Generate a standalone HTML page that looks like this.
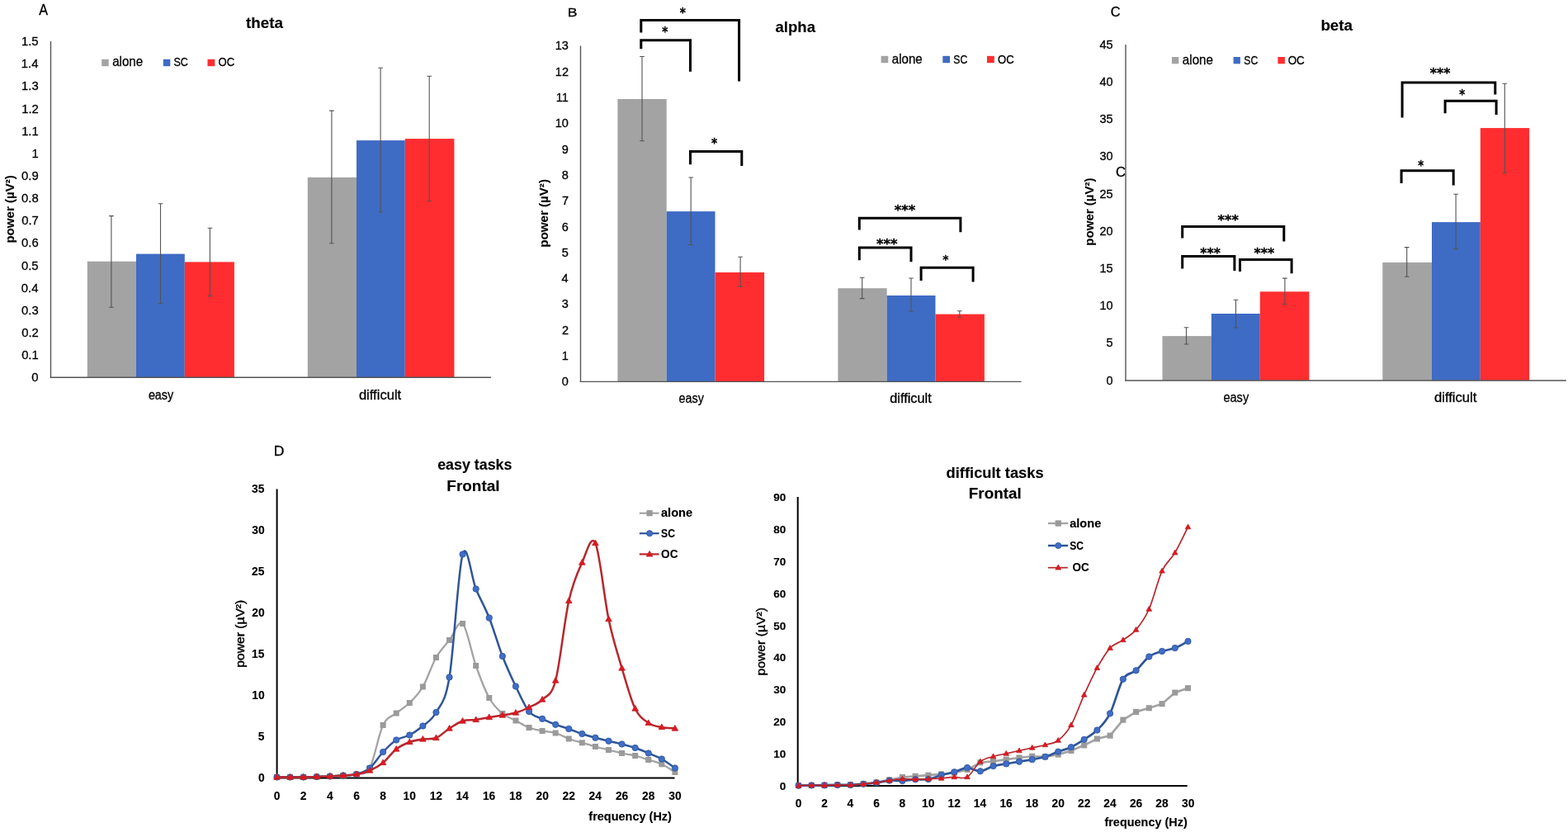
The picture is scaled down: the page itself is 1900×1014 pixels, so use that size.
<!DOCTYPE html>
<html><head><meta charset="utf-8"><title>EEG power spectra</title>
<style>html,body{margin:0;padding:0;background:#fff;}svg{display:block;}</style></head>
<body><svg width="1900" height="1014" viewBox="0 0 1900 1014" font-family="'Liberation Sans', Arial, sans-serif">
<rect width="1900" height="1014" fill="#fff"/>
<text x="47.26" y="18.00" font-size="17.60" fill="#000" stroke="#000" stroke-width="0.3" textLength="10.77" lengthAdjust="spacingAndGlyphs">A</text>
<text x="297.96" y="33.60" font-size="17.79" font-weight="bold" fill="#000" stroke="#000" stroke-width="0.12" textLength="44.93" lengthAdjust="spacingAndGlyphs">theta</text>
<rect x="123.20" y="71.80" width="8.50" height="8.40" fill="#a3a3a3"/>
<text x="136.16" y="80.10" font-size="15.72" fill="#000" stroke="#000" stroke-width="0.3" textLength="37.01" lengthAdjust="spacingAndGlyphs">alone</text>
<rect x="197.80" y="71.80" width="8.50" height="8.40" fill="#3e6bc4"/>
<text x="210.43" y="80.10" font-size="15.34" fill="#000" stroke="#000" stroke-width="0.3" textLength="17.53" lengthAdjust="spacingAndGlyphs">SC</text>
<rect x="251.50" y="71.80" width="8.80" height="8.40" fill="#ff2d2f"/>
<text x="264.48" y="80.10" font-size="15.34" fill="#000" stroke="#000" stroke-width="0.3" textLength="19.72" lengthAdjust="spacingAndGlyphs">OC</text>
<rect x="105.80" y="316.70" width="59.20" height="140.60" fill="#a3a3a3"/>
<rect x="165.00" y="307.60" width="58.80" height="149.70" fill="#3e6bc4"/>
<rect x="223.80" y="317.40" width="60.10" height="139.90" fill="#ff2d2f"/>
<rect x="372.80" y="214.90" width="59.20" height="242.40" fill="#a3a3a3"/>
<rect x="432.00" y="170.10" width="58.80" height="287.20" fill="#3e6bc4"/>
<rect x="490.80" y="168.10" width="59.60" height="289.20" fill="#ff2d2f"/>
<path d="M132.10 261.60H137.70M134.90 261.60V372.30M132.10 372.30H137.70" stroke="#545454" stroke-width="1.1" fill="none"/>
<path d="M191.70 246.80H197.30M194.50 246.80V367.70M191.70 367.70H197.30" stroke="#545454" stroke-width="1.1" fill="none"/>
<path d="M251.60 276.30H257.20M254.40 276.30V358.60M251.60 358.60H257.20" stroke="#545454" stroke-width="1.1" fill="none"/>
<path d="M399.10 134.10H404.70M401.90 134.10V294.80M399.10 294.80H404.70" stroke="#545454" stroke-width="1.1" fill="none"/>
<path d="M458.30 82.30H463.90M461.10 82.30V256.80M458.30 256.80H463.90" stroke="#545454" stroke-width="1.1" fill="none"/>
<path d="M517.40 92.20H523.00M520.20 92.20V243.80M517.40 243.80H523.00" stroke="#545454" stroke-width="1.1" fill="none"/>
<line x1="61.50" y1="50.00" x2="61.50" y2="458.00" stroke="#555555" stroke-width="1.4"/>
<line x1="60.80" y1="457.30" x2="595.00" y2="457.30" stroke="#555555" stroke-width="1.4"/>
<text x="38.34" y="462.39" font-size="14.80" fill="#000" stroke="#000" stroke-width="0.3">0</text>
<text x="26.13" y="435.24" font-size="14.80" fill="#000" stroke="#000" stroke-width="0.3">0.1</text>
<text x="26.17" y="408.09" font-size="14.80" fill="#000" stroke="#000" stroke-width="0.3">0.2</text>
<text x="26.06" y="380.94" font-size="14.80" fill="#000" stroke="#000" stroke-width="0.3">0.3</text>
<text x="25.83" y="353.79" font-size="14.80" fill="#000" stroke="#000" stroke-width="0.3">0.4</text>
<text x="26.02" y="326.64" font-size="14.80" fill="#000" stroke="#000" stroke-width="0.3">0.5</text>
<text x="26.06" y="299.49" font-size="14.80" fill="#000" stroke="#000" stroke-width="0.3">0.6</text>
<text x="26.17" y="272.34" font-size="14.80" fill="#000" stroke="#000" stroke-width="0.3">0.7</text>
<text x="26.06" y="245.19" font-size="14.80" fill="#000" stroke="#000" stroke-width="0.3">0.8</text>
<text x="26.09" y="218.04" font-size="14.80" fill="#000" stroke="#000" stroke-width="0.3">0.9</text>
<text x="38.49" y="190.89" font-size="14.80" fill="#000" stroke="#000" stroke-width="0.3">1</text>
<text x="26.13" y="163.74" font-size="14.80" fill="#000" stroke="#000" stroke-width="0.3">1.1</text>
<text x="26.17" y="136.66" font-size="14.80" fill="#000" stroke="#000" stroke-width="0.3">1.2</text>
<text x="26.06" y="109.44" font-size="14.80" fill="#000" stroke="#000" stroke-width="0.3">1.3</text>
<text x="25.83" y="82.29" font-size="14.80" fill="#000" stroke="#000" stroke-width="0.3">1.4</text>
<text x="26.02" y="55.06" font-size="14.80" fill="#000" stroke="#000" stroke-width="0.3">1.5</text>
<text x="17.40" y="294.58" font-size="14.62" font-weight="bold" fill="#000" stroke="#000" stroke-width="0.12" textLength="82.33" lengthAdjust="spacingAndGlyphs" transform="rotate(-90 17.40 294.58)">power (µV²)</text>
<text x="179.89" y="483.60" font-size="15.63" fill="#000" stroke="#000" stroke-width="0.3" textLength="30.34" lengthAdjust="spacingAndGlyphs">easy</text>
<text x="434.90" y="483.60" font-size="17.38" fill="#000" stroke="#000" stroke-width="0.3" textLength="51.32" lengthAdjust="spacingAndGlyphs">difficult</text>
<text x="687.84" y="20.20" font-size="14.98" fill="#000" stroke="#000" stroke-width="0.3" textLength="11.77" lengthAdjust="spacingAndGlyphs">B</text>
<text x="939.44" y="38.70" font-size="18.48" font-weight="bold" fill="#000" stroke="#000" stroke-width="0.12" textLength="48.55" lengthAdjust="spacingAndGlyphs">alpha</text>
<rect x="1067.60" y="67.80" width="8.70" height="8.40" fill="#a3a3a3"/>
<text x="1080.86" y="76.50" font-size="15.59" fill="#000" stroke="#000" stroke-width="0.3" textLength="36.91" lengthAdjust="spacingAndGlyphs">alone</text>
<rect x="1142.30" y="67.80" width="8.70" height="8.40" fill="#3e6bc4"/>
<text x="1155.25" y="76.50" font-size="15.20" fill="#000" stroke="#000" stroke-width="0.3" textLength="17.00" lengthAdjust="spacingAndGlyphs">SC</text>
<rect x="1196.00" y="67.80" width="8.80" height="8.40" fill="#ff2d2f"/>
<text x="1209.08" y="76.50" font-size="15.20" fill="#000" stroke="#000" stroke-width="0.3" textLength="19.72" lengthAdjust="spacingAndGlyphs">OC</text>
<rect x="748.40" y="120.00" width="59.30" height="342.40" fill="#a3a3a3"/>
<rect x="807.70" y="256.10" width="58.80" height="206.30" fill="#3e6bc4"/>
<rect x="866.50" y="330.00" width="59.60" height="132.40" fill="#ff2d2f"/>
<rect x="1015.40" y="349.20" width="59.30" height="113.20" fill="#a3a3a3"/>
<rect x="1074.70" y="358.00" width="58.80" height="104.40" fill="#3e6bc4"/>
<rect x="1133.50" y="380.60" width="59.40" height="81.80" fill="#ff2d2f"/>
<path d="M775.20 68.50H780.80M778.00 68.50V170.80M775.20 170.80H780.80" stroke="#545454" stroke-width="1.1" fill="none"/>
<path d="M834.40 215.00H840.00M837.20 215.00V296.50M834.40 296.50H840.00" stroke="#545454" stroke-width="1.1" fill="none"/>
<path d="M894.30 311.20H899.90M897.10 311.20V347.10M894.30 347.10H899.90" stroke="#545454" stroke-width="1.1" fill="none"/>
<path d="M1041.90 336.20H1047.50M1044.70 336.20V361.60M1041.90 361.60H1047.50" stroke="#545454" stroke-width="1.1" fill="none"/>
<path d="M1101.20 337.00H1106.80M1104.00 337.00V377.30M1101.20 377.30H1106.80" stroke="#545454" stroke-width="1.1" fill="none"/>
<path d="M1160.00 376.80H1165.60M1162.80 376.80V384.20M1160.00 384.20H1165.60" stroke="#545454" stroke-width="1.1" fill="none"/>
<line x1="703.50" y1="55.50" x2="703.50" y2="463.10" stroke="#555555" stroke-width="1.4"/>
<line x1="702.80" y1="462.40" x2="1237.60" y2="462.40" stroke="#555555" stroke-width="1.4"/>
<text x="680.70" y="467.38" font-size="14.50" fill="#000" stroke="#000" stroke-width="0.3">0</text>
<text x="680.84" y="436.08" font-size="14.50" fill="#000" stroke="#000" stroke-width="0.3">1</text>
<text x="680.88" y="404.86" font-size="14.50" fill="#000" stroke="#000" stroke-width="0.3">2</text>
<text x="680.77" y="373.48" font-size="14.50" fill="#000" stroke="#000" stroke-width="0.3">3</text>
<text x="680.55" y="342.18" font-size="14.50" fill="#000" stroke="#000" stroke-width="0.3">4</text>
<text x="680.73" y="310.81" font-size="14.50" fill="#000" stroke="#000" stroke-width="0.3">5</text>
<text x="680.77" y="279.58" font-size="14.50" fill="#000" stroke="#000" stroke-width="0.3">6</text>
<text x="680.88" y="248.28" font-size="14.50" fill="#000" stroke="#000" stroke-width="0.3">7</text>
<text x="680.77" y="216.98" font-size="14.50" fill="#000" stroke="#000" stroke-width="0.3">8</text>
<text x="680.81" y="185.68" font-size="14.50" fill="#000" stroke="#000" stroke-width="0.3">9</text>
<text x="672.65" y="154.38" font-size="14.50" fill="#000" stroke="#000" stroke-width="0.3">10</text>
<text x="673.85" y="123.08" font-size="14.50" fill="#000" stroke="#000" stroke-width="0.3">11</text>
<text x="672.83" y="91.86" font-size="14.50" fill="#000" stroke="#000" stroke-width="0.3">12</text>
<text x="672.72" y="60.48" font-size="14.50" fill="#000" stroke="#000" stroke-width="0.3">13</text>
<text x="663.90" y="299.78" font-size="14.34" font-weight="bold" fill="#000" stroke="#000" stroke-width="0.12" textLength="82.74" lengthAdjust="spacingAndGlyphs" transform="rotate(-90 663.90 299.78)">power (µV²)</text>
<text x="822.49" y="488.20" font-size="17.30" fill="#000" stroke="#000" stroke-width="0.3" textLength="30.45" lengthAdjust="spacingAndGlyphs">easy</text>
<text x="1078.21" y="488.30" font-size="16.00" fill="#000" stroke="#000" stroke-width="0.3" textLength="50.51" lengthAdjust="spacingAndGlyphs">difficult</text>
<path d="M776.80 39.40V24.60H895.60V98.60" stroke="#000" stroke-width="3" fill="none" stroke-linejoin="miter" stroke-linecap="butt"/>
<path d="M776.80 59.20V48.80H836.50V86.80" stroke="#000" stroke-width="3" fill="none" stroke-linejoin="miter" stroke-linecap="butt"/>
<path d="M836.50 199.20V183.60H898.80V200.90" stroke="#000" stroke-width="3" fill="none" stroke-linejoin="miter" stroke-linecap="butt"/>
<path d="M1041.30 278.50V264.20H1163.90V281.30" stroke="#000" stroke-width="3" fill="none" stroke-linejoin="miter" stroke-linecap="butt"/>
<path d="M1041.30 315.20V300.00H1104.00V317.20" stroke="#000" stroke-width="3" fill="none" stroke-linejoin="miter" stroke-linecap="butt"/>
<path d="M1116.10 340.00V324.30H1179.10V341.40" stroke="#000" stroke-width="3" fill="none" stroke-linejoin="miter" stroke-linecap="butt"/>
<text x="823.73" y="20.68" font-size="15.05" font-weight="bold" font-family="'DejaVu Sans', sans-serif" fill="#000" stroke="#000" stroke-width="0.3" textLength="7.15" lengthAdjust="spacingAndGlyphs">*</text>
<text x="802.33" y="43.98" font-size="15.05" font-weight="bold" font-family="'DejaVu Sans', sans-serif" fill="#000" stroke="#000" stroke-width="0.3" textLength="7.15" lengthAdjust="spacingAndGlyphs">*</text>
<text x="861.93" y="179.18" font-size="15.05" font-weight="bold" font-family="'DejaVu Sans', sans-serif" fill="#000" stroke="#000" stroke-width="0.3" textLength="7.15" lengthAdjust="spacingAndGlyphs">*</text>
<text x="1083.77" y="260.18" font-size="15.05" font-weight="bold" font-family="'DejaVu Sans', sans-serif" fill="#000" stroke="#000" stroke-width="0.3" textLength="25.57" lengthAdjust="spacingAndGlyphs">***</text>
<text x="1061.97" y="300.68" font-size="15.05" font-weight="bold" font-family="'DejaVu Sans', sans-serif" fill="#000" stroke="#000" stroke-width="0.3" textLength="25.57" lengthAdjust="spacingAndGlyphs">***</text>
<text x="1142.32" y="318.66" font-size="14.62" font-weight="bold" font-family="'DejaVu Sans', sans-serif" fill="#000" stroke="#000" stroke-width="0.3" textLength="7.26" lengthAdjust="spacingAndGlyphs">*</text>
<text x="1345.88" y="19.70" font-size="15.91" fill="#000" stroke="#000" stroke-width="0.3" textLength="11.83" lengthAdjust="spacingAndGlyphs">C</text>
<text x="1352.07" y="213.60" font-size="15.63" fill="#000" stroke="#000" stroke-width="0.3" textLength="12.06" lengthAdjust="spacingAndGlyphs">C</text>
<text x="1600.38" y="37.30" font-size="18.90" font-weight="bold" fill="#000" stroke="#000" stroke-width="0.12" textLength="38.71" lengthAdjust="spacingAndGlyphs">beta</text>
<rect x="1420.00" y="69.00" width="8.30" height="8.30" fill="#a3a3a3"/>
<text x="1432.86" y="77.70" font-size="15.72" fill="#000" stroke="#000" stroke-width="0.3" textLength="37.12" lengthAdjust="spacingAndGlyphs">alone</text>
<rect x="1494.60" y="69.00" width="8.30" height="8.30" fill="#3e6bc4"/>
<text x="1507.25" y="77.70" font-size="15.34" fill="#000" stroke="#000" stroke-width="0.3" textLength="17.00" lengthAdjust="spacingAndGlyphs">SC</text>
<rect x="1548.40" y="69.00" width="8.50" height="8.30" fill="#ff2d2f"/>
<text x="1560.66" y="77.70" font-size="15.34" fill="#000" stroke="#000" stroke-width="0.3" textLength="20.14" lengthAdjust="spacingAndGlyphs">OC</text>
<rect x="1408.50" y="407.10" width="59.40" height="53.90" fill="#a3a3a3"/>
<rect x="1467.90" y="380.00" width="58.90" height="81.00" fill="#3e6bc4"/>
<rect x="1526.80" y="353.30" width="59.60" height="107.70" fill="#ff2d2f"/>
<rect x="1675.30" y="317.90" width="59.70" height="143.10" fill="#a3a3a3"/>
<rect x="1735.00" y="269.10" width="58.80" height="191.90" fill="#3e6bc4"/>
<rect x="1793.80" y="155.10" width="59.30" height="305.90" fill="#ff2d2f"/>
<path d="M1434.70 396.80H1440.30M1437.50 396.80V417.00M1434.70 417.00H1440.30" stroke="#545454" stroke-width="1.1" fill="none"/>
<path d="M1494.70 363.20H1500.30M1497.50 363.20V397.00M1494.70 397.00H1500.30" stroke="#545454" stroke-width="1.1" fill="none"/>
<path d="M1554.10 337.10H1559.70M1556.90 337.10V368.50M1554.10 368.50H1559.70" stroke="#545454" stroke-width="1.1" fill="none"/>
<path d="M1701.90 299.60H1707.50M1704.70 299.60V335.30M1701.90 335.30H1707.50" stroke="#545454" stroke-width="1.1" fill="none"/>
<path d="M1761.30 235.30H1766.90M1764.10 235.30V301.60M1761.30 301.60H1766.90" stroke="#545454" stroke-width="1.1" fill="none"/>
<path d="M1820.50 101.30H1826.10M1823.30 101.30V209.20M1820.50 209.20H1826.10" stroke="#545454" stroke-width="1.1" fill="none"/>
<line x1="1364.00" y1="54.00" x2="1364.00" y2="461.70" stroke="#555555" stroke-width="1.4"/>
<line x1="1363.30" y1="461.00" x2="1897.80" y2="461.00" stroke="#555555" stroke-width="1.4"/>
<text x="1340.50" y="465.68" font-size="14.50" fill="#000" stroke="#000" stroke-width="0.3">0</text>
<text x="1340.53" y="420.38" font-size="14.50" fill="#000" stroke="#000" stroke-width="0.3">5</text>
<text x="1332.45" y="375.21" font-size="14.50" fill="#000" stroke="#000" stroke-width="0.3">10</text>
<text x="1332.48" y="329.91" font-size="14.50" fill="#000" stroke="#000" stroke-width="0.3">15</text>
<text x="1332.45" y="284.74" font-size="14.50" fill="#000" stroke="#000" stroke-width="0.3">20</text>
<text x="1332.48" y="239.51" font-size="14.50" fill="#000" stroke="#000" stroke-width="0.3">25</text>
<text x="1332.45" y="194.27" font-size="14.50" fill="#000" stroke="#000" stroke-width="0.3">30</text>
<text x="1332.48" y="149.04" font-size="14.50" fill="#000" stroke="#000" stroke-width="0.3">35</text>
<text x="1332.45" y="103.80" font-size="14.50" fill="#000" stroke="#000" stroke-width="0.3">40</text>
<text x="1332.48" y="58.50" font-size="14.50" fill="#000" stroke="#000" stroke-width="0.3">45</text>
<text x="1324.60" y="297.68" font-size="14.34" font-weight="bold" fill="#000" stroke="#000" stroke-width="0.12" textLength="82.33" lengthAdjust="spacingAndGlyphs" transform="rotate(-90 1324.60 297.68)">power (µV²)</text>
<text x="1482.38" y="487.00" font-size="16.74" fill="#000" stroke="#000" stroke-width="0.3" textLength="30.86" lengthAdjust="spacingAndGlyphs">easy</text>
<text x="1737.99" y="486.60" font-size="15.59" fill="#000" stroke="#000" stroke-width="0.3" textLength="51.42" lengthAdjust="spacingAndGlyphs">difficult</text>
<path d="M1432.70 288.60V274.50H1555.80V292.60" stroke="#000" stroke-width="3" fill="none" stroke-linejoin="miter" stroke-linecap="butt"/>
<path d="M1432.70 325.40V310.40H1495.90V328.00" stroke="#000" stroke-width="3" fill="none" stroke-linejoin="miter" stroke-linecap="butt"/>
<path d="M1502.50 329.10V314.40H1565.10V331.20" stroke="#000" stroke-width="3" fill="none" stroke-linejoin="miter" stroke-linecap="butt"/>
<path d="M1699.10 142.60V100.00H1811.80V114.60" stroke="#000" stroke-width="3" fill="none" stroke-linejoin="miter" stroke-linecap="butt"/>
<path d="M1751.10 137.30V122.30H1813.10V139.10" stroke="#000" stroke-width="3" fill="none" stroke-linejoin="miter" stroke-linecap="butt"/>
<path d="M1698.10 222.00V206.80H1761.20V224.40" stroke="#000" stroke-width="3" fill="none" stroke-linejoin="miter" stroke-linecap="butt"/>
<text x="1475.58" y="271.98" font-size="16.13" font-weight="bold" font-family="'DejaVu Sans', sans-serif" fill="#000" stroke="#000" stroke-width="0.3" textLength="25.37" lengthAdjust="spacingAndGlyphs">***</text>
<text x="1454.29" y="311.66" font-size="15.70" font-weight="bold" font-family="'DejaVu Sans', sans-serif" fill="#000" stroke="#000" stroke-width="0.3" textLength="24.55" lengthAdjust="spacingAndGlyphs">***</text>
<text x="1519.49" y="312.10" font-size="15.48" font-weight="bold" font-family="'DejaVu Sans', sans-serif" fill="#000" stroke="#000" stroke-width="0.3" textLength="24.65" lengthAdjust="spacingAndGlyphs">***</text>
<text x="1732.89" y="94.10" font-size="15.48" font-weight="bold" font-family="'DejaVu Sans', sans-serif" fill="#000" stroke="#000" stroke-width="0.3" textLength="24.65" lengthAdjust="spacingAndGlyphs">***</text>
<text x="1768.13" y="119.98" font-size="15.05" font-weight="bold" font-family="'DejaVu Sans', sans-serif" fill="#000" stroke="#000" stroke-width="0.3" textLength="6.94" lengthAdjust="spacingAndGlyphs">*</text>
<text x="1718.33" y="206.38" font-size="15.05" font-weight="bold" font-family="'DejaVu Sans', sans-serif" fill="#000" stroke="#000" stroke-width="0.3" textLength="6.94" lengthAdjust="spacingAndGlyphs">*</text>
<text x="331.85" y="552.30" font-size="15.85" fill="#000" stroke="#000" stroke-width="0.3" textLength="12.68" lengthAdjust="spacingAndGlyphs">D</text>
<text x="530.19" y="569.40" font-size="17.52" font-weight="bold" fill="#000" stroke="#000" stroke-width="0.12" textLength="90.23" lengthAdjust="spacingAndGlyphs">easy tasks</text>
<text x="541.32" y="594.90" font-size="18.76" font-weight="bold" fill="#000" stroke="#000" stroke-width="0.12" textLength="64.23" lengthAdjust="spacingAndGlyphs">Frontal</text>
<line x1="335.60" y1="592.40" x2="335.60" y2="943.50" stroke="#000" stroke-width="2.0"/>
<line x1="334.60" y1="942.50" x2="817.50" y2="942.50" stroke="#000" stroke-width="2.0"/>
<path d="M335.50 941.50C338.18 941.50 346.22 941.50 351.58 941.50C356.94 941.50 362.30 941.58 367.66 941.50C373.02 941.42 378.38 941.17 383.74 941.00C389.10 940.83 394.46 940.75 399.82 940.50C405.18 940.25 410.54 939.92 415.90 939.50C421.26 939.08 426.62 939.50 431.98 938.00C437.34 936.50 442.70 940.42 448.06 930.50C453.42 920.58 458.78 889.58 464.14 878.50C469.50 867.42 474.86 868.50 480.22 864.00C485.58 859.50 490.94 856.83 496.30 851.50C501.66 846.17 507.02 841.17 512.38 832.00C517.74 822.83 523.10 805.92 528.46 796.50C533.82 787.08 539.18 782.33 544.54 775.50C549.90 768.67 555.26 750.33 560.62 755.50C565.98 760.67 571.34 791.50 576.70 806.50C582.06 821.50 587.42 835.83 592.78 845.50C598.14 855.17 603.50 859.92 608.86 864.50C614.22 869.08 619.58 870.17 624.94 873.00C630.30 875.83 635.66 879.42 641.02 881.50C646.38 883.58 651.74 884.42 657.10 885.50C662.46 886.58 667.82 886.42 673.18 888.00C678.54 889.58 683.90 893.03 689.26 895.00C694.62 896.97 699.98 898.22 705.34 899.80C710.70 901.38 716.06 903.05 721.42 904.50C726.78 905.95 732.14 907.17 737.50 908.50C742.86 909.83 748.22 911.33 753.58 912.50C758.94 913.67 764.30 914.17 769.66 915.50C775.02 916.83 780.38 918.78 785.74 920.50C791.10 922.22 796.46 923.30 801.82 925.80C807.18 928.30 815.22 933.88 817.90 935.50" stroke="#a3a3a3" stroke-width="2.3" fill="none" stroke-linejoin="round" stroke-linecap="round"/>
<rect x="332.00" y="938.00" width="7.00" height="7.00" fill="#9a9a9a"/>
<rect x="348.08" y="938.00" width="7.00" height="7.00" fill="#9a9a9a"/>
<rect x="364.16" y="938.00" width="7.00" height="7.00" fill="#9a9a9a"/>
<rect x="380.24" y="937.50" width="7.00" height="7.00" fill="#9a9a9a"/>
<rect x="396.32" y="937.00" width="7.00" height="7.00" fill="#9a9a9a"/>
<rect x="412.40" y="936.00" width="7.00" height="7.00" fill="#9a9a9a"/>
<rect x="428.48" y="934.50" width="7.00" height="7.00" fill="#9a9a9a"/>
<rect x="444.56" y="927.00" width="7.00" height="7.00" fill="#9a9a9a"/>
<rect x="460.64" y="875.00" width="7.00" height="7.00" fill="#9a9a9a"/>
<rect x="476.72" y="860.50" width="7.00" height="7.00" fill="#9a9a9a"/>
<rect x="492.80" y="848.00" width="7.00" height="7.00" fill="#9a9a9a"/>
<rect x="508.88" y="828.50" width="7.00" height="7.00" fill="#9a9a9a"/>
<rect x="524.96" y="793.00" width="7.00" height="7.00" fill="#9a9a9a"/>
<rect x="541.04" y="772.00" width="7.00" height="7.00" fill="#9a9a9a"/>
<rect x="557.12" y="752.00" width="7.00" height="7.00" fill="#9a9a9a"/>
<rect x="573.20" y="803.00" width="7.00" height="7.00" fill="#9a9a9a"/>
<rect x="589.28" y="842.00" width="7.00" height="7.00" fill="#9a9a9a"/>
<rect x="605.36" y="861.00" width="7.00" height="7.00" fill="#9a9a9a"/>
<rect x="621.44" y="869.50" width="7.00" height="7.00" fill="#9a9a9a"/>
<rect x="637.52" y="878.00" width="7.00" height="7.00" fill="#9a9a9a"/>
<rect x="653.60" y="882.00" width="7.00" height="7.00" fill="#9a9a9a"/>
<rect x="669.68" y="884.50" width="7.00" height="7.00" fill="#9a9a9a"/>
<rect x="685.76" y="891.50" width="7.00" height="7.00" fill="#9a9a9a"/>
<rect x="701.84" y="896.30" width="7.00" height="7.00" fill="#9a9a9a"/>
<rect x="717.92" y="901.00" width="7.00" height="7.00" fill="#9a9a9a"/>
<rect x="734.00" y="905.00" width="7.00" height="7.00" fill="#9a9a9a"/>
<rect x="750.08" y="909.00" width="7.00" height="7.00" fill="#9a9a9a"/>
<rect x="766.16" y="912.00" width="7.00" height="7.00" fill="#9a9a9a"/>
<rect x="782.24" y="917.00" width="7.00" height="7.00" fill="#9a9a9a"/>
<rect x="798.32" y="922.30" width="7.00" height="7.00" fill="#9a9a9a"/>
<rect x="814.40" y="932.00" width="7.00" height="7.00" fill="#9a9a9a"/>
<path d="M335.50 941.50C338.18 941.50 346.22 941.50 351.58 941.50C356.94 941.50 362.30 941.58 367.66 941.50C373.02 941.42 378.38 941.17 383.74 941.00C389.10 940.83 394.46 940.75 399.82 940.50C405.18 940.25 410.54 939.92 415.90 939.50C421.26 939.08 426.62 939.50 431.98 938.00C437.34 936.50 442.70 935.00 448.06 930.50C453.42 926.00 458.78 916.67 464.14 911.00C469.50 905.33 474.86 899.92 480.22 896.50C485.58 893.08 490.94 893.33 496.30 890.50C501.66 887.67 507.02 884.08 512.38 879.50C517.74 874.92 523.10 872.83 528.46 863.00C533.82 853.17 539.18 852.42 544.54 820.50C549.90 788.58 555.26 689.33 560.62 671.50C565.98 653.67 571.34 700.67 576.70 713.50C582.06 726.33 587.42 734.92 592.78 748.50C598.14 762.08 603.50 781.17 608.86 795.00C614.22 808.83 619.58 820.33 624.94 831.50C630.30 842.67 635.66 855.45 641.02 862.00C646.38 868.55 651.74 868.17 657.10 870.80C662.46 873.43 667.82 875.77 673.18 877.80C678.54 879.83 683.90 881.13 689.26 883.00C694.62 884.87 699.98 887.20 705.34 889.00C710.70 890.80 716.06 892.33 721.42 893.80C726.78 895.27 732.14 896.52 737.50 897.80C742.86 899.08 748.22 900.13 753.58 901.50C758.94 902.87 764.30 904.17 769.66 906.00C775.02 907.83 780.38 910.25 785.74 912.50C791.10 914.75 796.46 916.50 801.82 919.50C807.18 922.50 815.22 928.67 817.90 930.50" stroke="#2f5597" stroke-width="2.5" fill="none" stroke-linejoin="round" stroke-linecap="round"/>
<circle cx="335.50" cy="941.50" r="3.70" fill="#3f6dc8" stroke="#2f5597" stroke-width="0.8"/>
<circle cx="351.58" cy="941.50" r="3.70" fill="#3f6dc8" stroke="#2f5597" stroke-width="0.8"/>
<circle cx="367.66" cy="941.50" r="3.70" fill="#3f6dc8" stroke="#2f5597" stroke-width="0.8"/>
<circle cx="383.74" cy="941.00" r="3.70" fill="#3f6dc8" stroke="#2f5597" stroke-width="0.8"/>
<circle cx="399.82" cy="940.50" r="3.70" fill="#3f6dc8" stroke="#2f5597" stroke-width="0.8"/>
<circle cx="415.90" cy="939.50" r="3.70" fill="#3f6dc8" stroke="#2f5597" stroke-width="0.8"/>
<circle cx="431.98" cy="938.00" r="3.70" fill="#3f6dc8" stroke="#2f5597" stroke-width="0.8"/>
<circle cx="448.06" cy="930.50" r="3.70" fill="#3f6dc8" stroke="#2f5597" stroke-width="0.8"/>
<circle cx="464.14" cy="911.00" r="3.70" fill="#3f6dc8" stroke="#2f5597" stroke-width="0.8"/>
<circle cx="480.22" cy="896.50" r="3.70" fill="#3f6dc8" stroke="#2f5597" stroke-width="0.8"/>
<circle cx="496.30" cy="890.50" r="3.70" fill="#3f6dc8" stroke="#2f5597" stroke-width="0.8"/>
<circle cx="512.38" cy="879.50" r="3.70" fill="#3f6dc8" stroke="#2f5597" stroke-width="0.8"/>
<circle cx="528.46" cy="863.00" r="3.70" fill="#3f6dc8" stroke="#2f5597" stroke-width="0.8"/>
<circle cx="544.54" cy="820.50" r="3.70" fill="#3f6dc8" stroke="#2f5597" stroke-width="0.8"/>
<circle cx="560.62" cy="671.50" r="3.70" fill="#3f6dc8" stroke="#2f5597" stroke-width="0.8"/>
<circle cx="576.70" cy="713.50" r="3.70" fill="#3f6dc8" stroke="#2f5597" stroke-width="0.8"/>
<circle cx="592.78" cy="748.50" r="3.70" fill="#3f6dc8" stroke="#2f5597" stroke-width="0.8"/>
<circle cx="608.86" cy="795.00" r="3.70" fill="#3f6dc8" stroke="#2f5597" stroke-width="0.8"/>
<circle cx="624.94" cy="831.50" r="3.70" fill="#3f6dc8" stroke="#2f5597" stroke-width="0.8"/>
<circle cx="641.02" cy="862.00" r="3.70" fill="#3f6dc8" stroke="#2f5597" stroke-width="0.8"/>
<circle cx="657.10" cy="870.80" r="3.70" fill="#3f6dc8" stroke="#2f5597" stroke-width="0.8"/>
<circle cx="673.18" cy="877.80" r="3.70" fill="#3f6dc8" stroke="#2f5597" stroke-width="0.8"/>
<circle cx="689.26" cy="883.00" r="3.70" fill="#3f6dc8" stroke="#2f5597" stroke-width="0.8"/>
<circle cx="705.34" cy="889.00" r="3.70" fill="#3f6dc8" stroke="#2f5597" stroke-width="0.8"/>
<circle cx="721.42" cy="893.80" r="3.70" fill="#3f6dc8" stroke="#2f5597" stroke-width="0.8"/>
<circle cx="737.50" cy="897.80" r="3.70" fill="#3f6dc8" stroke="#2f5597" stroke-width="0.8"/>
<circle cx="753.58" cy="901.50" r="3.70" fill="#3f6dc8" stroke="#2f5597" stroke-width="0.8"/>
<circle cx="769.66" cy="906.00" r="3.70" fill="#3f6dc8" stroke="#2f5597" stroke-width="0.8"/>
<circle cx="785.74" cy="912.50" r="3.70" fill="#3f6dc8" stroke="#2f5597" stroke-width="0.8"/>
<circle cx="801.82" cy="919.50" r="3.70" fill="#3f6dc8" stroke="#2f5597" stroke-width="0.8"/>
<circle cx="817.90" cy="930.50" r="3.70" fill="#3f6dc8" stroke="#2f5597" stroke-width="0.8"/>
<path d="M335.50 941.50C338.18 941.50 346.22 941.50 351.58 941.50C356.94 941.50 362.30 941.58 367.66 941.50C373.02 941.42 378.38 941.17 383.74 941.00C389.10 940.83 394.46 940.75 399.82 940.50C405.18 940.25 410.54 939.92 415.90 939.50C421.26 939.08 426.62 939.00 431.98 938.00C437.34 937.00 442.70 935.83 448.06 933.50C453.42 931.17 458.78 928.33 464.14 924.00C469.50 919.67 474.86 911.67 480.22 907.50C485.58 903.33 490.94 901.00 496.30 899.00C501.66 897.00 507.02 896.33 512.38 895.50C517.74 894.67 523.10 896.17 528.46 894.00C533.82 891.83 539.18 885.92 544.54 882.50C549.90 879.08 555.26 875.25 560.62 873.50C565.98 871.75 571.34 872.75 576.70 872.00C582.06 871.25 587.42 869.92 592.78 869.00C598.14 868.08 603.50 867.42 608.86 866.50C614.22 865.58 619.58 865.08 624.94 863.50C630.30 861.92 635.66 859.67 641.02 857.00C646.38 854.33 651.74 852.92 657.10 847.50C662.46 842.08 667.82 844.42 673.18 824.50C678.54 804.58 683.90 751.83 689.26 728.00C694.62 704.17 699.98 693.17 705.34 681.50C710.70 669.83 716.06 646.58 721.42 658.00C726.78 669.42 732.14 724.75 737.50 750.00C742.86 775.25 748.22 791.42 753.58 809.50C758.94 827.58 764.30 847.43 769.66 858.50C775.02 869.57 780.38 872.15 785.74 875.90C791.10 879.65 796.46 879.90 801.82 881.00C807.18 882.10 815.22 882.25 817.90 882.50" stroke="#b8262c" stroke-width="2.5" fill="none" stroke-linejoin="round" stroke-linecap="round"/>
<path d="M335.50 937.49L339.30 944.18L331.70 944.18Z" fill="#e8141c" stroke="#b8262c" stroke-width="0.8"/>
<path d="M351.58 937.49L355.38 944.18L347.78 944.18Z" fill="#e8141c" stroke="#b8262c" stroke-width="0.8"/>
<path d="M367.66 937.49L371.46 944.18L363.86 944.18Z" fill="#e8141c" stroke="#b8262c" stroke-width="0.8"/>
<path d="M383.74 936.99L387.54 943.68L379.94 943.68Z" fill="#e8141c" stroke="#b8262c" stroke-width="0.8"/>
<path d="M399.82 936.49L403.62 943.18L396.02 943.18Z" fill="#e8141c" stroke="#b8262c" stroke-width="0.8"/>
<path d="M415.90 935.49L419.70 942.18L412.10 942.18Z" fill="#e8141c" stroke="#b8262c" stroke-width="0.8"/>
<path d="M431.98 933.99L435.78 940.68L428.18 940.68Z" fill="#e8141c" stroke="#b8262c" stroke-width="0.8"/>
<path d="M448.06 929.49L451.86 936.18L444.26 936.18Z" fill="#e8141c" stroke="#b8262c" stroke-width="0.8"/>
<path d="M464.14 919.99L467.94 926.68L460.34 926.68Z" fill="#e8141c" stroke="#b8262c" stroke-width="0.8"/>
<path d="M480.22 903.49L484.02 910.18L476.42 910.18Z" fill="#e8141c" stroke="#b8262c" stroke-width="0.8"/>
<path d="M496.30 894.99L500.10 901.68L492.50 901.68Z" fill="#e8141c" stroke="#b8262c" stroke-width="0.8"/>
<path d="M512.38 891.49L516.18 898.18L508.58 898.18Z" fill="#e8141c" stroke="#b8262c" stroke-width="0.8"/>
<path d="M528.46 889.99L532.26 896.68L524.66 896.68Z" fill="#e8141c" stroke="#b8262c" stroke-width="0.8"/>
<path d="M544.54 878.49L548.34 885.18L540.74 885.18Z" fill="#e8141c" stroke="#b8262c" stroke-width="0.8"/>
<path d="M560.62 869.49L564.42 876.18L556.82 876.18Z" fill="#e8141c" stroke="#b8262c" stroke-width="0.8"/>
<path d="M576.70 867.99L580.50 874.68L572.90 874.68Z" fill="#e8141c" stroke="#b8262c" stroke-width="0.8"/>
<path d="M592.78 864.99L596.58 871.68L588.98 871.68Z" fill="#e8141c" stroke="#b8262c" stroke-width="0.8"/>
<path d="M608.86 862.49L612.66 869.18L605.06 869.18Z" fill="#e8141c" stroke="#b8262c" stroke-width="0.8"/>
<path d="M624.94 859.49L628.74 866.18L621.14 866.18Z" fill="#e8141c" stroke="#b8262c" stroke-width="0.8"/>
<path d="M641.02 852.99L644.82 859.68L637.22 859.68Z" fill="#e8141c" stroke="#b8262c" stroke-width="0.8"/>
<path d="M657.10 843.49L660.90 850.18L653.30 850.18Z" fill="#e8141c" stroke="#b8262c" stroke-width="0.8"/>
<path d="M673.18 820.49L676.98 827.18L669.38 827.18Z" fill="#e8141c" stroke="#b8262c" stroke-width="0.8"/>
<path d="M689.26 723.99L693.06 730.68L685.46 730.68Z" fill="#e8141c" stroke="#b8262c" stroke-width="0.8"/>
<path d="M705.34 677.49L709.14 684.18L701.54 684.18Z" fill="#e8141c" stroke="#b8262c" stroke-width="0.8"/>
<path d="M721.42 653.99L725.22 660.68L717.62 660.68Z" fill="#e8141c" stroke="#b8262c" stroke-width="0.8"/>
<path d="M737.50 745.99L741.30 752.68L733.70 752.68Z" fill="#e8141c" stroke="#b8262c" stroke-width="0.8"/>
<path d="M753.58 805.49L757.38 812.18L749.78 812.18Z" fill="#e8141c" stroke="#b8262c" stroke-width="0.8"/>
<path d="M769.66 854.49L773.46 861.18L765.86 861.18Z" fill="#e8141c" stroke="#b8262c" stroke-width="0.8"/>
<path d="M785.74 871.89L789.54 878.58L781.94 878.58Z" fill="#e8141c" stroke="#b8262c" stroke-width="0.8"/>
<path d="M801.82 876.99L805.62 883.68L798.02 883.68Z" fill="#e8141c" stroke="#b8262c" stroke-width="0.8"/>
<path d="M817.90 878.49L821.70 885.18L814.10 885.18Z" fill="#e8141c" stroke="#b8262c" stroke-width="0.8"/>
<text x="312.89" y="947.24" font-size="13.80" font-weight="bold" fill="#000" stroke="#000" stroke-width="0.12">0</text>
<text x="312.72" y="897.17" font-size="13.80" font-weight="bold" fill="#000" stroke="#000" stroke-width="0.12">5</text>
<text x="305.23" y="847.24" font-size="13.80" font-weight="bold" fill="#000" stroke="#000" stroke-width="0.12">10</text>
<text x="305.06" y="797.17" font-size="13.80" font-weight="bold" fill="#000" stroke="#000" stroke-width="0.12">15</text>
<text x="305.23" y="747.24" font-size="13.80" font-weight="bold" fill="#000" stroke="#000" stroke-width="0.12">20</text>
<text x="305.06" y="697.24" font-size="13.80" font-weight="bold" fill="#000" stroke="#000" stroke-width="0.12">25</text>
<text x="305.23" y="647.23" font-size="13.80" font-weight="bold" fill="#000" stroke="#000" stroke-width="0.12">30</text>
<text x="305.06" y="597.23" font-size="13.80" font-weight="bold" fill="#000" stroke="#000" stroke-width="0.12">35</text>
<text x="331.67" y="968.54" font-size="13.80" font-weight="bold" fill="#000" stroke="#000" stroke-width="0.12">0</text>
<text x="363.85" y="968.61" font-size="13.80" font-weight="bold" fill="#000" stroke="#000" stroke-width="0.12">2</text>
<text x="395.92" y="968.54" font-size="13.80" font-weight="bold" fill="#000" stroke="#000" stroke-width="0.12">4</text>
<text x="428.13" y="968.54" font-size="13.80" font-weight="bold" fill="#000" stroke="#000" stroke-width="0.12">6</text>
<text x="460.29" y="968.54" font-size="13.80" font-weight="bold" fill="#000" stroke="#000" stroke-width="0.12">8</text>
<text x="488.49" y="968.54" font-size="13.80" font-weight="bold" fill="#000" stroke="#000" stroke-width="0.12">10</text>
<text x="520.63" y="968.61" font-size="13.80" font-weight="bold" fill="#000" stroke="#000" stroke-width="0.12">12</text>
<text x="552.56" y="968.54" font-size="13.80" font-weight="bold" fill="#000" stroke="#000" stroke-width="0.12">14</text>
<text x="584.93" y="968.54" font-size="13.80" font-weight="bold" fill="#000" stroke="#000" stroke-width="0.12">16</text>
<text x="617.06" y="968.54" font-size="13.80" font-weight="bold" fill="#000" stroke="#000" stroke-width="0.12">18</text>
<text x="649.48" y="968.54" font-size="13.80" font-weight="bold" fill="#000" stroke="#000" stroke-width="0.12">20</text>
<text x="681.62" y="968.61" font-size="13.80" font-weight="bold" fill="#000" stroke="#000" stroke-width="0.12">22</text>
<text x="713.55" y="968.61" font-size="13.80" font-weight="bold" fill="#000" stroke="#000" stroke-width="0.12">24</text>
<text x="745.92" y="968.54" font-size="13.80" font-weight="bold" fill="#000" stroke="#000" stroke-width="0.12">26</text>
<text x="778.05" y="968.54" font-size="13.80" font-weight="bold" fill="#000" stroke="#000" stroke-width="0.12">28</text>
<text x="810.36" y="968.53" font-size="13.80" font-weight="bold" fill="#000" stroke="#000" stroke-width="0.12">30</text>
<text x="713.35" y="993.60" font-size="14.21" font-weight="bold" fill="#000" stroke="#000" stroke-width="0.12" textLength="100.58" lengthAdjust="spacingAndGlyphs">frequency (Hz)</text>
<text x="295.80" y="808.72" font-size="14.34" fill="#000" stroke="#000" stroke-width="0.45" textLength="81.97" lengthAdjust="spacingAndGlyphs" transform="rotate(-90 295.80 808.72)">power (µV²)</text>
<line x1="774.80" y1="621.70" x2="798.60" y2="621.70" stroke="#a3a3a3" stroke-width="2.2"/>
<rect x="783.50" y="618.10" width="7.20" height="7.20" fill="#9a9a9a"/>
<text x="800.96" y="626.40" font-size="15.45" font-weight="bold" fill="#000" stroke="#000" stroke-width="0.12" textLength="38.24" lengthAdjust="spacingAndGlyphs">alone</text>
<line x1="774.80" y1="646.20" x2="798.60" y2="646.20" stroke="#2f5597" stroke-width="2.2"/>
<circle cx="787.10" cy="646.20" r="3.60" fill="#3f6dc8" stroke="#2f5597" stroke-width="0.8"/>
<text x="801.04" y="650.90" font-size="15.05" font-weight="bold" fill="#000" stroke="#000" stroke-width="0.12" textLength="16.89" lengthAdjust="spacingAndGlyphs">SC</text>
<line x1="774.80" y1="671.40" x2="798.60" y2="671.40" stroke="#b8262c" stroke-width="2.2"/>
<path d="M787.10 667.39L790.90 674.08L783.30 674.08Z" fill="#e8141c" stroke="#b8262c" stroke-width="0.8"/>
<text x="801.06" y="676.40" font-size="15.05" font-weight="bold" fill="#000" stroke="#000" stroke-width="0.12" textLength="20.42" lengthAdjust="spacingAndGlyphs">OC</text>
<text x="1146.57" y="578.60" font-size="18.62" font-weight="bold" fill="#000" stroke="#000" stroke-width="0.12" textLength="118.08" lengthAdjust="spacingAndGlyphs">difficult tasks</text>
<text x="1173.83" y="604.30" font-size="18.34" font-weight="bold" fill="#000" stroke="#000" stroke-width="0.12" textLength="63.81" lengthAdjust="spacingAndGlyphs">Frontal</text>
<line x1="966.70" y1="602.00" x2="966.70" y2="953.10" stroke="#000" stroke-width="2.0"/>
<line x1="965.70" y1="952.10" x2="1438.70" y2="952.10" stroke="#000" stroke-width="2.0"/>
<path d="M967.60 951.42L983.33 951.42L999.06 951.03L1014.79 950.65L1030.52 950.65L1046.25 949.48L1061.98 947.92L1077.71 944.81L1093.44 941.51L1109.17 940.34L1124.90 939.18L1140.63 937.82L1156.36 936.26L1172.09 932.38L1187.82 923.82L1203.55 922.27L1219.28 920.13L1235.01 917.99L1250.74 916.25L1266.47 916.83L1282.20 914.11L1297.93 909.44L1313.66 902.84L1329.39 895.06L1345.12 891.17L1360.85 872.13L1376.58 862.41L1392.31 857.75L1408.04 852.69L1423.77 839.09L1439.50 833.65" stroke="#a3a3a3" stroke-width="2.7" fill="none" stroke-linejoin="round" stroke-linecap="round"/>
<rect x="964.05" y="947.87" width="7.10" height="7.10" fill="#9a9a9a"/>
<rect x="979.78" y="947.87" width="7.10" height="7.10" fill="#9a9a9a"/>
<rect x="995.51" y="947.48" width="7.10" height="7.10" fill="#9a9a9a"/>
<rect x="1011.24" y="947.10" width="7.10" height="7.10" fill="#9a9a9a"/>
<rect x="1026.97" y="947.10" width="7.10" height="7.10" fill="#9a9a9a"/>
<rect x="1042.70" y="945.93" width="7.10" height="7.10" fill="#9a9a9a"/>
<rect x="1058.43" y="944.37" width="7.10" height="7.10" fill="#9a9a9a"/>
<rect x="1074.16" y="941.26" width="7.10" height="7.10" fill="#9a9a9a"/>
<rect x="1089.89" y="937.96" width="7.10" height="7.10" fill="#9a9a9a"/>
<rect x="1105.62" y="936.79" width="7.10" height="7.10" fill="#9a9a9a"/>
<rect x="1121.35" y="935.63" width="7.10" height="7.10" fill="#9a9a9a"/>
<rect x="1137.08" y="934.27" width="7.10" height="7.10" fill="#9a9a9a"/>
<rect x="1152.81" y="932.71" width="7.10" height="7.10" fill="#9a9a9a"/>
<rect x="1168.54" y="928.83" width="7.10" height="7.10" fill="#9a9a9a"/>
<rect x="1184.27" y="920.27" width="7.10" height="7.10" fill="#9a9a9a"/>
<rect x="1200.00" y="918.72" width="7.10" height="7.10" fill="#9a9a9a"/>
<rect x="1215.73" y="916.58" width="7.10" height="7.10" fill="#9a9a9a"/>
<rect x="1231.46" y="914.44" width="7.10" height="7.10" fill="#9a9a9a"/>
<rect x="1247.19" y="912.70" width="7.10" height="7.10" fill="#9a9a9a"/>
<rect x="1262.92" y="913.28" width="7.10" height="7.10" fill="#9a9a9a"/>
<rect x="1278.65" y="910.56" width="7.10" height="7.10" fill="#9a9a9a"/>
<rect x="1294.38" y="905.89" width="7.10" height="7.10" fill="#9a9a9a"/>
<rect x="1310.11" y="899.29" width="7.10" height="7.10" fill="#9a9a9a"/>
<rect x="1325.84" y="891.51" width="7.10" height="7.10" fill="#9a9a9a"/>
<rect x="1341.57" y="887.62" width="7.10" height="7.10" fill="#9a9a9a"/>
<rect x="1357.30" y="868.58" width="7.10" height="7.10" fill="#9a9a9a"/>
<rect x="1373.03" y="858.86" width="7.10" height="7.10" fill="#9a9a9a"/>
<rect x="1388.76" y="854.20" width="7.10" height="7.10" fill="#9a9a9a"/>
<rect x="1404.49" y="849.14" width="7.10" height="7.10" fill="#9a9a9a"/>
<rect x="1420.22" y="835.54" width="7.10" height="7.10" fill="#9a9a9a"/>
<rect x="1435.95" y="830.10" width="7.10" height="7.10" fill="#9a9a9a"/>
<path d="M967.60 951.81C970.22 951.75 978.09 951.49 983.33 951.42C988.57 951.36 993.82 951.49 999.06 951.42C1004.30 951.36 1009.55 951.10 1014.79 951.03C1020.03 950.97 1025.28 951.23 1030.52 951.03C1035.76 950.84 1041.01 950.32 1046.25 949.87C1051.49 949.41 1056.74 949.03 1061.98 948.31C1067.22 947.60 1072.47 945.98 1077.71 945.59C1082.95 945.20 1088.20 946.21 1093.44 945.98C1098.68 945.75 1103.93 944.56 1109.17 944.23C1114.41 943.91 1119.66 944.91 1124.90 944.04C1130.14 943.16 1135.39 940.44 1140.63 938.98C1145.87 937.53 1151.12 936.78 1156.36 935.29C1161.60 933.80 1166.85 930.21 1172.09 930.04C1177.33 929.88 1182.58 934.64 1187.82 934.32C1193.06 934.00 1198.31 929.59 1203.55 928.10C1208.79 926.61 1214.04 926.29 1219.28 925.38C1224.52 924.47 1229.77 923.53 1235.01 922.66C1240.25 921.78 1245.50 921.10 1250.74 920.13C1255.98 919.16 1261.23 918.42 1266.47 916.83C1271.71 915.24 1276.96 912.55 1282.20 910.61C1287.44 908.67 1292.69 907.63 1297.93 905.17C1303.17 902.71 1308.42 899.27 1313.66 895.84C1318.90 892.40 1324.15 889.81 1329.39 884.57C1334.63 879.32 1339.88 874.65 1345.12 864.35C1350.36 854.05 1355.61 831.44 1360.85 822.76C1366.09 814.08 1371.34 816.80 1376.58 812.27C1381.82 807.73 1387.07 799.44 1392.31 795.55C1397.55 791.67 1402.80 790.70 1408.04 788.95C1413.28 787.20 1418.53 787.07 1423.77 785.06C1429.01 783.05 1436.88 778.26 1439.50 776.90" stroke="#2f5597" stroke-width="2.7" fill="none" stroke-linejoin="round" stroke-linecap="round"/>
<circle cx="967.60" cy="951.81" r="3.70" fill="#3f6dc8" stroke="#2f5597" stroke-width="0.8"/>
<circle cx="983.33" cy="951.42" r="3.70" fill="#3f6dc8" stroke="#2f5597" stroke-width="0.8"/>
<circle cx="999.06" cy="951.42" r="3.70" fill="#3f6dc8" stroke="#2f5597" stroke-width="0.8"/>
<circle cx="1014.79" cy="951.03" r="3.70" fill="#3f6dc8" stroke="#2f5597" stroke-width="0.8"/>
<circle cx="1030.52" cy="951.03" r="3.70" fill="#3f6dc8" stroke="#2f5597" stroke-width="0.8"/>
<circle cx="1046.25" cy="949.87" r="3.70" fill="#3f6dc8" stroke="#2f5597" stroke-width="0.8"/>
<circle cx="1061.98" cy="948.31" r="3.70" fill="#3f6dc8" stroke="#2f5597" stroke-width="0.8"/>
<circle cx="1077.71" cy="945.59" r="3.70" fill="#3f6dc8" stroke="#2f5597" stroke-width="0.8"/>
<circle cx="1093.44" cy="945.98" r="3.70" fill="#3f6dc8" stroke="#2f5597" stroke-width="0.8"/>
<circle cx="1109.17" cy="944.23" r="3.70" fill="#3f6dc8" stroke="#2f5597" stroke-width="0.8"/>
<circle cx="1124.90" cy="944.04" r="3.70" fill="#3f6dc8" stroke="#2f5597" stroke-width="0.8"/>
<circle cx="1140.63" cy="938.98" r="3.70" fill="#3f6dc8" stroke="#2f5597" stroke-width="0.8"/>
<circle cx="1156.36" cy="935.29" r="3.70" fill="#3f6dc8" stroke="#2f5597" stroke-width="0.8"/>
<circle cx="1172.09" cy="930.04" r="3.70" fill="#3f6dc8" stroke="#2f5597" stroke-width="0.8"/>
<circle cx="1187.82" cy="934.32" r="3.70" fill="#3f6dc8" stroke="#2f5597" stroke-width="0.8"/>
<circle cx="1203.55" cy="928.10" r="3.70" fill="#3f6dc8" stroke="#2f5597" stroke-width="0.8"/>
<circle cx="1219.28" cy="925.38" r="3.70" fill="#3f6dc8" stroke="#2f5597" stroke-width="0.8"/>
<circle cx="1235.01" cy="922.66" r="3.70" fill="#3f6dc8" stroke="#2f5597" stroke-width="0.8"/>
<circle cx="1250.74" cy="920.13" r="3.70" fill="#3f6dc8" stroke="#2f5597" stroke-width="0.8"/>
<circle cx="1266.47" cy="916.83" r="3.70" fill="#3f6dc8" stroke="#2f5597" stroke-width="0.8"/>
<circle cx="1282.20" cy="910.61" r="3.70" fill="#3f6dc8" stroke="#2f5597" stroke-width="0.8"/>
<circle cx="1297.93" cy="905.17" r="3.70" fill="#3f6dc8" stroke="#2f5597" stroke-width="0.8"/>
<circle cx="1313.66" cy="895.84" r="3.70" fill="#3f6dc8" stroke="#2f5597" stroke-width="0.8"/>
<circle cx="1329.39" cy="884.57" r="3.70" fill="#3f6dc8" stroke="#2f5597" stroke-width="0.8"/>
<circle cx="1345.12" cy="864.35" r="3.70" fill="#3f6dc8" stroke="#2f5597" stroke-width="0.8"/>
<circle cx="1360.85" cy="822.76" r="3.70" fill="#3f6dc8" stroke="#2f5597" stroke-width="0.8"/>
<circle cx="1376.58" cy="812.27" r="3.70" fill="#3f6dc8" stroke="#2f5597" stroke-width="0.8"/>
<circle cx="1392.31" cy="795.55" r="3.70" fill="#3f6dc8" stroke="#2f5597" stroke-width="0.8"/>
<circle cx="1408.04" cy="788.95" r="3.70" fill="#3f6dc8" stroke="#2f5597" stroke-width="0.8"/>
<circle cx="1423.77" cy="785.06" r="3.70" fill="#3f6dc8" stroke="#2f5597" stroke-width="0.8"/>
<circle cx="1439.50" cy="776.90" r="3.70" fill="#3f6dc8" stroke="#2f5597" stroke-width="0.8"/>
<path d="M967.60 951.81C970.22 951.75 978.09 951.49 983.33 951.42C988.57 951.36 993.82 951.49 999.06 951.42C1004.30 951.36 1009.55 951.10 1014.79 951.03C1020.03 950.97 1025.28 951.23 1030.52 951.03C1035.76 950.84 1041.01 950.39 1046.25 949.87C1051.49 949.35 1056.74 948.64 1061.98 947.92C1067.22 947.21 1072.47 946.30 1077.71 945.59C1082.95 944.88 1088.20 943.91 1093.44 943.65C1098.68 943.39 1103.93 944.04 1109.17 944.04C1114.41 944.04 1119.66 943.84 1124.90 943.65C1130.14 943.45 1135.39 943.26 1140.63 942.87C1145.87 942.48 1151.12 941.58 1156.36 941.32C1161.60 941.06 1166.85 944.43 1172.09 941.32C1177.33 938.21 1182.58 926.80 1187.82 922.66C1193.06 918.51 1198.31 918.06 1203.55 916.44C1208.79 914.82 1214.04 914.11 1219.28 912.94C1224.52 911.78 1229.77 910.61 1235.01 909.44C1240.25 908.28 1245.50 907.11 1250.74 905.94C1255.98 904.78 1261.23 903.94 1266.47 902.45C1271.71 900.96 1276.96 901.02 1282.20 897.00C1287.44 892.99 1292.69 887.55 1297.93 878.35C1303.17 869.15 1308.42 853.34 1313.66 841.81C1318.90 830.28 1324.15 818.62 1329.39 809.16C1334.63 799.70 1339.88 790.70 1345.12 785.06C1350.36 779.42 1355.61 779.03 1360.85 775.34C1366.09 771.65 1371.34 769.12 1376.58 762.90C1381.82 756.68 1387.07 749.88 1392.31 738.03C1397.55 726.17 1402.80 703.17 1408.04 691.77C1413.28 680.37 1418.53 678.49 1423.77 669.62C1429.01 660.74 1436.88 643.70 1439.50 638.52" stroke="#b8262c" stroke-width="1.7" fill="none" stroke-linejoin="round" stroke-linecap="round"/>
<path d="M967.60 948.33L970.90 954.13L964.30 954.13Z" fill="#e8141c" stroke="#b8262c" stroke-width="0.8"/>
<path d="M983.33 947.94L986.63 953.75L980.03 953.75Z" fill="#e8141c" stroke="#b8262c" stroke-width="0.8"/>
<path d="M999.06 947.94L1002.36 953.75L995.76 953.75Z" fill="#e8141c" stroke="#b8262c" stroke-width="0.8"/>
<path d="M1014.79 947.55L1018.09 953.36L1011.49 953.36Z" fill="#e8141c" stroke="#b8262c" stroke-width="0.8"/>
<path d="M1030.52 947.55L1033.82 953.36L1027.22 953.36Z" fill="#e8141c" stroke="#b8262c" stroke-width="0.8"/>
<path d="M1046.25 946.38L1049.55 952.19L1042.95 952.19Z" fill="#e8141c" stroke="#b8262c" stroke-width="0.8"/>
<path d="M1061.98 944.44L1065.28 950.25L1058.68 950.25Z" fill="#e8141c" stroke="#b8262c" stroke-width="0.8"/>
<path d="M1077.71 942.11L1081.01 947.92L1074.41 947.92Z" fill="#e8141c" stroke="#b8262c" stroke-width="0.8"/>
<path d="M1093.44 940.16L1096.74 945.97L1090.14 945.97Z" fill="#e8141c" stroke="#b8262c" stroke-width="0.8"/>
<path d="M1109.17 940.55L1112.47 946.36L1105.87 946.36Z" fill="#e8141c" stroke="#b8262c" stroke-width="0.8"/>
<path d="M1124.90 940.16L1128.20 945.97L1121.60 945.97Z" fill="#e8141c" stroke="#b8262c" stroke-width="0.8"/>
<path d="M1140.63 939.39L1143.93 945.19L1137.33 945.19Z" fill="#e8141c" stroke="#b8262c" stroke-width="0.8"/>
<path d="M1156.36 937.83L1159.66 943.64L1153.06 943.64Z" fill="#e8141c" stroke="#b8262c" stroke-width="0.8"/>
<path d="M1172.09 937.83L1175.39 943.64L1168.79 943.64Z" fill="#e8141c" stroke="#b8262c" stroke-width="0.8"/>
<path d="M1187.82 919.17L1191.12 924.98L1184.52 924.98Z" fill="#e8141c" stroke="#b8262c" stroke-width="0.8"/>
<path d="M1203.55 912.95L1206.85 918.76L1200.25 918.76Z" fill="#e8141c" stroke="#b8262c" stroke-width="0.8"/>
<path d="M1219.28 909.46L1222.58 915.26L1215.98 915.26Z" fill="#e8141c" stroke="#b8262c" stroke-width="0.8"/>
<path d="M1235.01 905.96L1238.31 911.77L1231.71 911.77Z" fill="#e8141c" stroke="#b8262c" stroke-width="0.8"/>
<path d="M1250.74 902.46L1254.04 908.27L1247.44 908.27Z" fill="#e8141c" stroke="#b8262c" stroke-width="0.8"/>
<path d="M1266.47 898.96L1269.77 904.77L1263.17 904.77Z" fill="#e8141c" stroke="#b8262c" stroke-width="0.8"/>
<path d="M1282.20 893.52L1285.50 899.33L1278.90 899.33Z" fill="#e8141c" stroke="#b8262c" stroke-width="0.8"/>
<path d="M1297.93 874.86L1301.23 880.67L1294.63 880.67Z" fill="#e8141c" stroke="#b8262c" stroke-width="0.8"/>
<path d="M1313.66 838.32L1316.96 844.13L1310.36 844.13Z" fill="#e8141c" stroke="#b8262c" stroke-width="0.8"/>
<path d="M1329.39 805.67L1332.69 811.48L1326.09 811.48Z" fill="#e8141c" stroke="#b8262c" stroke-width="0.8"/>
<path d="M1345.12 781.57L1348.42 787.38L1341.82 787.38Z" fill="#e8141c" stroke="#b8262c" stroke-width="0.8"/>
<path d="M1360.85 771.86L1364.15 777.66L1357.55 777.66Z" fill="#e8141c" stroke="#b8262c" stroke-width="0.8"/>
<path d="M1376.58 759.42L1379.88 765.23L1373.28 765.23Z" fill="#e8141c" stroke="#b8262c" stroke-width="0.8"/>
<path d="M1392.31 734.54L1395.61 740.35L1389.01 740.35Z" fill="#e8141c" stroke="#b8262c" stroke-width="0.8"/>
<path d="M1408.04 688.29L1411.34 694.09L1404.74 694.09Z" fill="#e8141c" stroke="#b8262c" stroke-width="0.8"/>
<path d="M1423.77 666.13L1427.07 671.94L1420.47 671.94Z" fill="#e8141c" stroke="#b8262c" stroke-width="0.8"/>
<path d="M1439.50 635.03L1442.80 640.84L1436.20 640.84Z" fill="#e8141c" stroke="#b8262c" stroke-width="0.8"/>
<text x="944.80" y="956.88" font-size="13.60" font-weight="bold" fill="#000" stroke="#000" stroke-width="0.12">0</text>
<text x="937.25" y="918.00" font-size="13.60" font-weight="bold" fill="#000" stroke="#000" stroke-width="0.12">10</text>
<text x="937.25" y="879.13" font-size="13.60" font-weight="bold" fill="#000" stroke="#000" stroke-width="0.12">20</text>
<text x="937.25" y="840.25" font-size="13.60" font-weight="bold" fill="#000" stroke="#000" stroke-width="0.12">30</text>
<text x="937.25" y="801.39" font-size="13.60" font-weight="bold" fill="#000" stroke="#000" stroke-width="0.12">40</text>
<text x="937.25" y="762.52" font-size="13.60" font-weight="bold" fill="#000" stroke="#000" stroke-width="0.12">50</text>
<text x="937.25" y="723.65" font-size="13.60" font-weight="bold" fill="#000" stroke="#000" stroke-width="0.12">60</text>
<text x="937.25" y="684.79" font-size="13.60" font-weight="bold" fill="#000" stroke="#000" stroke-width="0.12">70</text>
<text x="937.25" y="645.91" font-size="13.60" font-weight="bold" fill="#000" stroke="#000" stroke-width="0.12">80</text>
<text x="937.25" y="607.05" font-size="13.60" font-weight="bold" fill="#000" stroke="#000" stroke-width="0.12">90</text>
<text x="963.77" y="978.14" font-size="13.80" font-weight="bold" fill="#000" stroke="#000" stroke-width="0.12">0</text>
<text x="995.25" y="978.21" font-size="13.80" font-weight="bold" fill="#000" stroke="#000" stroke-width="0.12">2</text>
<text x="1026.62" y="978.14" font-size="13.80" font-weight="bold" fill="#000" stroke="#000" stroke-width="0.12">4</text>
<text x="1058.13" y="978.14" font-size="13.80" font-weight="bold" fill="#000" stroke="#000" stroke-width="0.12">6</text>
<text x="1089.59" y="978.14" font-size="13.80" font-weight="bold" fill="#000" stroke="#000" stroke-width="0.12">8</text>
<text x="1117.09" y="978.14" font-size="13.80" font-weight="bold" fill="#000" stroke="#000" stroke-width="0.12">10</text>
<text x="1148.53" y="978.21" font-size="13.80" font-weight="bold" fill="#000" stroke="#000" stroke-width="0.12">12</text>
<text x="1179.76" y="978.14" font-size="13.80" font-weight="bold" fill="#000" stroke="#000" stroke-width="0.12">14</text>
<text x="1211.43" y="978.14" font-size="13.80" font-weight="bold" fill="#000" stroke="#000" stroke-width="0.12">16</text>
<text x="1242.86" y="978.14" font-size="13.80" font-weight="bold" fill="#000" stroke="#000" stroke-width="0.12">18</text>
<text x="1274.58" y="978.14" font-size="13.80" font-weight="bold" fill="#000" stroke="#000" stroke-width="0.12">20</text>
<text x="1306.02" y="978.21" font-size="13.80" font-weight="bold" fill="#000" stroke="#000" stroke-width="0.12">22</text>
<text x="1337.25" y="978.21" font-size="13.80" font-weight="bold" fill="#000" stroke="#000" stroke-width="0.12">24</text>
<text x="1368.92" y="978.14" font-size="13.80" font-weight="bold" fill="#000" stroke="#000" stroke-width="0.12">26</text>
<text x="1400.35" y="978.14" font-size="13.80" font-weight="bold" fill="#000" stroke="#000" stroke-width="0.12">28</text>
<text x="1431.96" y="978.13" font-size="13.80" font-weight="bold" fill="#000" stroke="#000" stroke-width="0.12">30</text>
<text x="1338.45" y="1001.40" font-size="13.93" font-weight="bold" fill="#000" stroke="#000" stroke-width="0.12" textLength="100.28" lengthAdjust="spacingAndGlyphs">frequency (Hz)</text>
<text x="927.00" y="818.62" font-size="14.48" fill="#000" stroke="#000" stroke-width="0.45" textLength="82.59" lengthAdjust="spacingAndGlyphs" transform="rotate(-90 927.00 818.62)">power (µV²)</text>
<line x1="1269.90" y1="634.00" x2="1294.20" y2="634.00" stroke="#a3a3a3" stroke-width="2.3"/>
<rect x="1278.65" y="630.35" width="7.30" height="7.30" fill="#9a9a9a"/>
<text x="1296.16" y="638.50" font-size="14.62" font-weight="bold" fill="#000" stroke="#000" stroke-width="0.12" textLength="38.14" lengthAdjust="spacingAndGlyphs">alone</text>
<line x1="1269.90" y1="661.00" x2="1294.20" y2="661.00" stroke="#2f5597" stroke-width="2.5"/>
<circle cx="1282.30" cy="661.00" r="3.60" fill="#3f6dc8" stroke="#2f5597" stroke-width="0.8"/>
<text x="1296.24" y="665.80" font-size="14.77" font-weight="bold" fill="#000" stroke="#000" stroke-width="0.12" textLength="16.78" lengthAdjust="spacingAndGlyphs">SC</text>
<line x1="1269.90" y1="687.70" x2="1293.80" y2="687.70" stroke="#b8262c" stroke-width="1.7"/>
<path d="M1282.30 684.11L1285.70 690.09L1278.90 690.09Z" fill="#e8141c" stroke="#b8262c" stroke-width="0.8"/>
<text x="1299.56" y="692.20" font-size="14.77" font-weight="bold" fill="#000" stroke="#000" stroke-width="0.12" textLength="20.21" lengthAdjust="spacingAndGlyphs">OC</text>
</svg></body></html>
